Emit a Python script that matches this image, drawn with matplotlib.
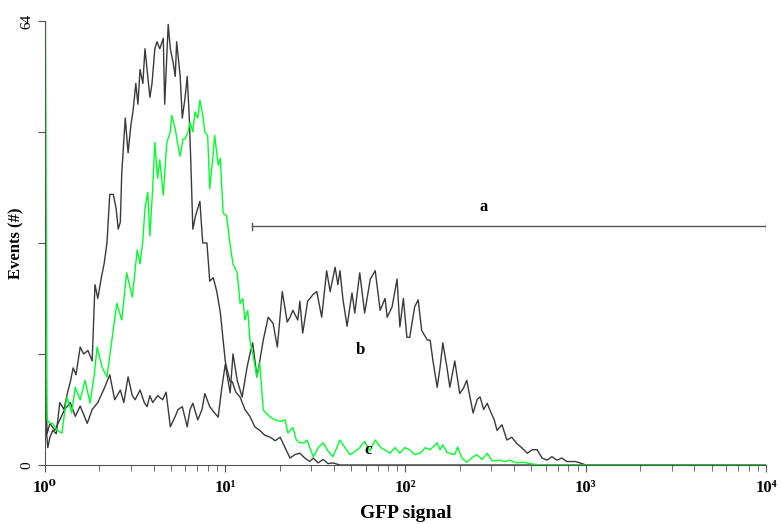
import numpy as np
import matplotlib.pyplot as plt
from matplotlib.ticker import LogLocator, NullFormatter

# Histogram data: channel (0-1023, 4-decade log scale) and events
ch_a = [0, 1, 4, 7, 11, 16, 21, 27, 31, 36, 40, 44, 50, 55, 61, 67, 71, 75, 80, 84,
        88, 92, 97, 101, 104, 107, 109, 114, 118, 122, 125, 129, 132, 135, 139, 142,
        146, 149, 152, 156, 159, 163, 168, 170, 175, 178, 182, 185, 187, 192, 195,
        199, 202, 205, 207, 210, 214, 217, 220, 224, 230, 234, 239, 244, 249, 251,
        256, 258, 263, 266, 271, 277, 284, 291, 298, 305, 312, 320, 327, 334, 341,
        348, 355, 362, 369, 376, 381, 388, 395, 402, 409, 419, 1023]
ev_a = [44, 6, 2.5, 4, 5, 4.5, 9, 8, 10, 12, 14, 13, 17, 16, 16.5, 15, 26, 24, 27, 29,
        32, 39, 39, 37, 34, 35, 42, 50, 45, 49, 51, 55, 52, 57, 55, 60,
        56, 53, 55, 60, 61, 60, 61.5, 52, 63.5, 60, 58, 56, 61, 56, 50,
        53, 56, 50, 44, 34, 36, 37, 38, 32, 32, 26.5, 27, 25, 22, 20,
        15, 14, 12, 12, 10.5, 9.8, 8, 7, 5.5, 5, 4.3, 4, 3.5, 4, 2.5,
        1, 1.5, 1.7, 1, 0.5, 1, 0.3, 0.8, 0.2, 0.3, 0, 0]

ch_b = [0, 3, 7, 14, 21, 28, 36, 43, 50, 60, 67, 75, 84, 92, 99, 107, 112, 118, 124,
        128, 135, 141, 145, 149, 153, 160, 167, 172, 178, 185, 189, 195, 202, 206,
        210, 217, 223, 227, 234, 241, 246, 251, 256, 263, 267, 273, 280, 287, 291,
        295, 301, 305, 310, 317, 324, 330, 337, 344, 348, 352, 359, 362, 366, 373,
        381, 386, 393, 400, 405, 412, 416, 419, 423, 429, 436, 440, 447, 454, 462,
        469, 476, 483, 486, 493, 500, 504, 509, 514, 518, 525, 530, 535, 543, 547,
        551, 557, 561, 565, 571, 575, 582, 589, 594, 599, 608, 614, 618, 623, 628,
        632, 638, 642, 649, 656, 663, 670, 677, 685, 692, 699, 706, 713, 720, 727,
        734, 741, 753, 760, 768, 1023]
ev_b = [15.5, 4.5, 6, 5, 6.5, 8, 9, 7, 8.5, 6, 8, 9, 11, 13, 9.4, 10.8, 9, 12.7, 10,
        9.4, 10.8, 9, 8.4, 10, 9, 10, 9.4, 10.5, 5.5, 7, 8, 8.4, 5.5, 8,
        8.9, 6.5, 8, 10.3, 8.4, 7.5, 6.9, 11, 14.5, 10.4, 16, 12.2, 9.8, 14.1, 16,
        17.6, 12.7, 15, 18, 21.3, 20.4, 17, 25, 20.6, 21.3, 22.3, 20.9, 23.6, 19, 23.6,
        24.6, 25, 21.3, 28, 25, 28.5, 26, 28, 24, 20, 24.8, 21.9, 27.7, 21.9, 26.8,
        28, 22.3, 24, 21.3, 22.8, 26.8, 19.9, 24, 18.4, 18.4, 22.8, 23.8, 19.4, 18, 18,
        15, 11.2, 14, 17.6, 14, 11.2, 15, 10.3, 11, 12.2, 7.5, 9.5, 9.8, 8, 8.9,
        7.9, 6.5, 5, 5.8, 3.6, 4, 3.1, 2.5, 1.7, 2.2, 2.2, 1, 0.7, 1.2, 0.7,
        1, 0.5, 0.5, 0.3, 0, 0]

ch_c = [0, 3, 7, 11, 17, 24, 31, 38, 43, 50, 57, 64, 70, 74, 81, 88, 95, 102, 109,
        116, 124, 131, 135, 139, 142, 146, 149, 153, 156, 160, 163, 168, 173, 178,
        180, 185, 189, 192, 196, 199, 203, 206, 210, 213, 217, 220, 224, 227, 231,
        234, 239, 241, 246, 249, 253, 258, 263, 267, 273, 277, 281, 284, 288, 291,
        297, 301, 305, 310, 314, 320, 327, 334, 341, 345, 352, 357, 362, 368, 372,
        381, 388, 395, 402, 409, 419, 426, 433, 437, 447, 454, 461, 469, 477, 490,
        497, 504, 511, 518, 525, 533, 540, 547, 551, 557, 561, 565, 571, 575, 582,
        586, 592, 599, 606, 613, 621, 628, 635, 646, 653, 660, 670, 679, 689, 703, 1023]
ev_c = [80, 6.5, 6, 6, 5, 4.6, 9.8, 7.5, 11.2, 9.4, 12.2, 8.9, 13, 17, 14.1, 12.7, 18, 23.3, 20.9,
        27.7, 24.2, 31, 29, 32.4, 37, 39.3, 33, 40, 46.5, 41.3, 44, 38.9, 46.5, 48,
        50.4, 48.4, 46, 44.5, 47, 47, 48, 49.4, 48, 50.9, 50, 52.6, 50.4, 48, 47.5,
        39.8, 45, 47.5, 43.2, 44.2, 36.3, 35.9, 31.7, 29, 27.7, 23.3, 24, 20.9, 22.3, 18,
        15, 12.7, 14.7, 7.9, 7.5, 6.9, 6.5, 6.3, 6.5, 4.6, 5.4, 3.6, 3.2, 3.2, 3.6,
        1.2, 2.5, 3.2, 2, 1.2, 3.6, 2.5, 1.5, 1.7, 2.5, 3.4, 2, 3.6, 2.5, 1.7,
        2.5, 1.7, 2.5, 2.2, 1.5, 1.7, 2.5, 2.2, 2.6, 3.2, 2.2, 2.9, 1.8, 1.7, 1.5,
        2.6, 1, 0.4, 1, 1.5, 0.8, 1.7, 0.6, 0.7, 0.5, 0.7, 0.3, 0.4, 0.2, 0, 0]

gate_a = (14.1, 10000, 34.4)
labels = {"a": (272, 37.2), "b": (56, 16.6), "c": (62, 2.2)}
xticks = [1, 10, 100, 1000, 10000]
xticklabels = ["10⁰", "10¹", "10²", "10³", "10⁴"]


def to_signal(ch):
    return 10 ** (np.asarray(ch) / 256.0)


serif = ["Liberation Serif", "DejaVu Serif"]
gray = "#555555"

fig = plt.figure(figsize=(7.81, 5.24), dpi=100)
ax = fig.add_axes([0.0576, 0.1126, 0.9232, 0.8474])

ax.plot(to_signal(ch_a), ev_a, color="#3a3a3a", lw=1.0)
ax.plot(to_signal(ch_b), ev_b, color="#3a3a3a", lw=1.0)
ax.plot(to_signal(ch_c), ev_c, color="#00ff2a", lw=1.0)

# gate bar "a"
ax.plot([gate_a[0], gate_a[1]], [gate_a[2], gate_a[2]], color=gray, lw=1.0)
for xg in gate_a[:2]:
    ax.plot([xg, xg], [gate_a[2] - 0.5, gate_a[2] + 0.5], color=gray, lw=1.0)

for txt, (xt, yt) in labels.items():
    ax.text(xt, yt, txt, family=serif, fontweight="bold", fontsize=12,
            ha="center", va="center")

ax.set_xscale("log")
ax.set_xlim(1, 10000)
ax.set_ylim(0, 64)

ax.set_xticks(xticks)
ax.set_xticklabels(xticklabels, family=serif, fontweight="bold", fontsize=12)
ax.xaxis.set_minor_locator(LogLocator(base=10, subs=np.arange(2, 10)))
ax.xaxis.set_minor_formatter(NullFormatter())
ax.tick_params(axis="x", which="major", length=5, color=gray, pad=6)
ax.tick_params(axis="x", which="minor", length=4, color=gray)

ax.set_yticks([0, 16, 32, 48, 64])
ax.set_yticklabels(["0", "", "", "", "64"], family=serif, fontsize=11,
                   rotation=90, va="center")
ax.tick_params(axis="y", length=5, color=gray, pad=3)

for side in ["top", "right"]:
    ax.spines[side].set_visible(False)
for side in ["left", "bottom"]:
    ax.spines[side].set_color(gray)

ax.set_xlabel("GFP signal", family=serif, fontweight="bold", fontsize=14, labelpad=6)
ax.set_ylabel("Events (#)", family=serif, fontweight="bold", fontsize=12)
ax.yaxis.set_label_coords(-0.028, 0.5)

fig.savefig("out.png", dpi=100)
